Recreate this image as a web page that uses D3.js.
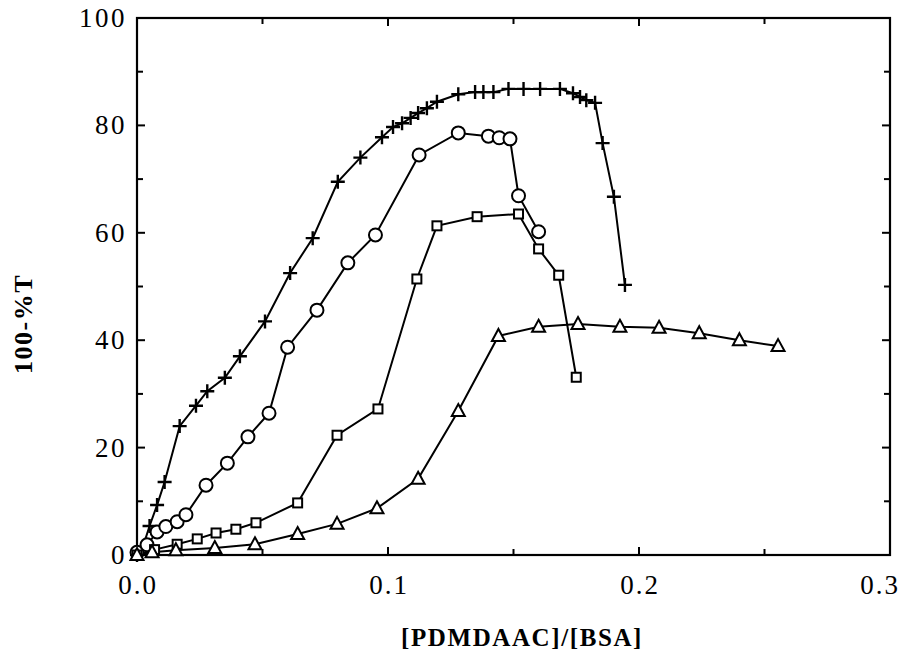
<!DOCTYPE html>
<html>
<head>
<meta charset="utf-8">
<script src="https://cdn.jsdelivr.net/npm/d3@7"></script>
<style>
  body { margin: 0; background: #fff; }
</style>
</head>
<body>
<svg id="chart" width="906" height="668"></svg>
<script>
// series: [PDMDAAC]/[BSA] vs 100-%T
const plusX = [0, 0.002, 0.005, 0.008, 0.011, 0.017, 0.0235, 0.028, 0.035, 0.041, 0.051, 0.061, 0.070, 0.080, 0.089,
  0.0976, 0.102, 0.1056, 0.109, 0.112, 0.1155, 0.1195, 0.128, 0.1347, 0.138, 0.142, 0.148, 0.154, 0.1606, 0.1685,
  0.1737, 0.1765, 0.179, 0.1825, 0.1855, 0.19, 0.1944];
const plusY = [0, 1, 5.4, 9.3, 13.6, 24, 27.8, 30.5, 33, 37, 43.5, 52.5, 59, 69.5, 74,
  77.8, 79.7, 80.4, 81.4, 82.3, 83.2, 84.4, 85.8, 86.2, 86.2, 86.2, 86.8, 86.8, 86.8, 86.8,
  86, 85.3, 84.7, 84.2, 76.7, 66.7, 50.3];

const circX = [0, 0.004, 0.008, 0.0115, 0.016, 0.0195, 0.0275, 0.036, 0.0442, 0.0526, 0.060, 0.0717, 0.084, 0.095,
  0.1124, 0.128, 0.140, 0.1443, 0.1486, 0.152, 0.160];
const circY = [0.5, 1.9, 4.3, 5.3, 6.2, 7.5, 13, 17.1, 22, 26.4, 38.7, 45.6, 54.4, 59.6,
  74.5, 78.6, 78, 77.7, 77.5, 66.9, 60.2];

const sqX = [0, 0.007, 0.016, 0.024, 0.0315, 0.0394, 0.0474, 0.064, 0.0797, 0.096, 0.1115, 0.1195, 0.1355, 0.152,
  0.160, 0.168, 0.175];
const sqY = [0, 1, 2, 3, 4.1, 4.8, 6, 9.7, 22.3, 27.2, 51.4, 61.3, 63, 63.5, 57, 52.1, 33.1];

const triX = [0, 0.006, 0.0155, 0.031, 0.047, 0.064, 0.0797, 0.0956, 0.112, 0.128, 0.144, 0.160, 0.1757, 0.1924,
  0.208, 0.224, 0.240, 0.2554];
const triY = [0, 0.5, 0.9, 1.3, 2, 3.9, 5.8, 8.7, 14.2, 26.8, 40.8, 42.5, 43, 42.5, 42.3, 41.3, 40, 38.9];

const xTickLabels = ["0.0", "0.1", "0.2", "0.3"];
const yTickLabels = ["0", "20", "40", "60", "80", "100"];

const FONT = "'Liberation Serif', 'Times New Roman', Times, 'DejaVu Serif', serif";

const svg = d3.select("#chart");
const plot = { left: 137, right: 890, top: 18, bottom: 555 };

const x = d3.scaleLinear().domain([0, 0.3]).range([plot.left, plot.right]);
const y = d3.scaleLinear().domain([0, 100]).range([plot.bottom, plot.top]);

// frame
svg.append("rect")
  .attr("x", plot.left).attr("y", plot.top)
  .attr("width", plot.right - plot.left).attr("height", plot.bottom - plot.top)
  .attr("fill", "none").attr("stroke", "#000").attr("stroke-width", 2.2);

// inward ticks on all four sides
const g = svg.append("g").attr("stroke", "#000").attr("stroke-width", 2);
d3.range(0, 0.3001, 0.05).forEach((v, i) => {
  const len = i % 2 === 0 ? 8 : 6;
  g.append("line").attr("x1", x(v)).attr("x2", x(v)).attr("y1", plot.bottom).attr("y2", plot.bottom - len);
  g.append("line").attr("x1", x(v)).attr("x2", x(v)).attr("y1", plot.top).attr("y2", plot.top + len);
});
d3.range(0, 100.1, 10).forEach((v, i) => {
  const len = i % 2 === 0 ? 8 : 6;
  g.append("line").attr("x1", plot.left).attr("x2", plot.left + len).attr("y1", y(v)).attr("y2", y(v));
  g.append("line").attr("x1", plot.right).attr("x2", plot.right - len).attr("y1", y(v)).attr("y2", y(v));
});

// tick labels (the last one sits a bit left so it stays on the page)
svg.selectAll(".xl").data(xTickLabels).enter().append("text")
  .attr("x", (d, i) => Math.min(x(i * 0.1) + 1, 880))
  .attr("y", 594)
  .attr("text-anchor", "middle")
  .attr("font-family", FONT)
  .attr("font-size", 27)
  .attr("letter-spacing", 2)
  .text(d => d);
svg.selectAll(".yl").data(yTickLabels).enter().append("text")
  .attr("x", 127)
  .attr("y", (d, i) => y(i * 20) + 9)
  .attr("text-anchor", "end")
  .attr("font-family", FONT)
  .attr("font-size", 27)
  .attr("letter-spacing", 2.5)
  .text(d => d);

// axis titles
svg.append("text")
  .attr("transform", "translate(32,324) rotate(-90)")
  .attr("text-anchor", "middle")
  .attr("font-family", FONT)
  .attr("font-size", 26).attr("font-weight", "bold")
  .attr("letter-spacing", 1.5)
  .text("100-%T");
svg.append("text")
  .attr("x", 522).attr("y", 646)
  .attr("text-anchor", "middle")
  .attr("font-family", FONT)
  .attr("font-size", 25).attr("font-weight", "bold")
  .attr("letter-spacing", 1.6)
  .text("[PDMDAAC]/[BSA]");

const line = d3.line().x(d => x(d[0])).y(d => y(d[1]));
const zip = (a, b) => a.map((v, i) => [v, b[i]]);

const series = [
  { pts: zip(plusX, plusY), marker: "plus" },
  { pts: zip(circX, circY), marker: "circle" },
  { pts: zip(sqX, sqY), marker: "square" },
  { pts: zip(triX, triY), marker: "triangle" }
];

series.forEach(s => {
  svg.append("path")
    .attr("d", line(s.pts))
    .attr("fill", "none").attr("stroke", "#000").attr("stroke-width", 2);
});

series.forEach(s => {
  const mg = svg.append("g").attr("stroke", "#000").attr("stroke-width", 2);
  s.pts.forEach(p => {
    const cx = x(p[0]), cy = y(p[1]);
    if (s.marker === "plus") {
      mg.append("path").attr("d", `M${cx - 7},${cy}H${cx + 7}M${cx},${cy - 7}V${cy + 7}`).attr("stroke-width", 2.4);
    } else if (s.marker === "circle") {
      mg.append("circle").attr("cx", cx).attr("cy", cy).attr("r", 6.5).attr("fill", "#fff");
    } else if (s.marker === "square") {
      mg.append("rect").attr("x", cx - 4.5).attr("y", cy - 4.5).attr("width", 9).attr("height", 9).attr("fill", "#fff");
    } else {
      mg.append("path").attr("d", `M${cx},${cy - 7}L${cx + 6.5},${cy + 5}L${cx - 6.5},${cy + 5}Z`).attr("fill", "#fff");
    }
  });
});
</script>
</body>
</html>
